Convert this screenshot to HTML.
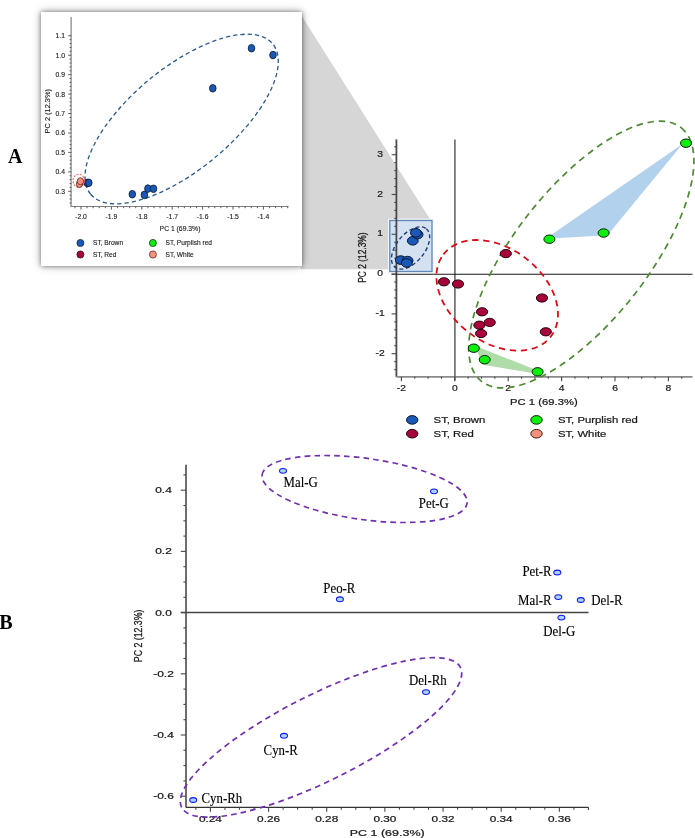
<!DOCTYPE html>
<html><head><meta charset="utf-8"><style>
html,body{margin:0;padding:0;background:#fff;}
body{width:695px;height:838px;overflow:hidden;position:relative;}
svg{position:absolute;left:0;top:0;display:block;will-change:transform;}
</style></head><body>
<svg width="695" height="838" viewBox="0 0 695 838">
<defs><filter id="sh" x="-10%" y="-10%" width="120%" height="120%"><feGaussianBlur stdDeviation="2.6"/></filter><filter id="sh2" x="-15%" y="-15%" width="130%" height="130%"><feGaussianBlur stdDeviation="5.5"/></filter><filter id="bl" x="-5%" y="-5%" width="110%" height="110%"><feGaussianBlur stdDeviation="0.7"/></filter></defs>
<rect width="695" height="838" fill="#fff"/>
<polygon points="300.5,14 431.2,221 431.5,221 431.5,269.2 300.5,269.2" fill="#d6d6d6" filter="url(#bl)"/>
<rect x="41" y="12" width="261" height="254" fill="#000" opacity="0.22" filter="url(#sh2)"/>
<rect x="41" y="12" width="261" height="254" fill="#000" opacity="0.5" filter="url(#sh)"/>
<rect x="41" y="12" width="261" height="254" fill="#fff"/>
<line x1="71.10" y1="17.00" x2="71.10" y2="206.50" stroke="#808080" stroke-width="1.2" />
<line x1="70.50" y1="206.50" x2="288.50" y2="206.50" stroke="#808080" stroke-width="1.2" />
<line x1="69.60" y1="202.96" x2="71.20" y2="202.96" stroke="#4a4a4a" stroke-width="0.9" />
<line x1="69.60" y1="199.08" x2="71.20" y2="199.08" stroke="#4a4a4a" stroke-width="0.9" />
<line x1="69.60" y1="195.19" x2="71.20" y2="195.19" stroke="#4a4a4a" stroke-width="0.9" />
<line x1="68.20" y1="191.30" x2="71.20" y2="191.30" stroke="#4a4a4a" stroke-width="0.9" />
<line x1="69.60" y1="187.41" x2="71.20" y2="187.41" stroke="#4a4a4a" stroke-width="0.9" />
<line x1="69.60" y1="183.52" x2="71.20" y2="183.52" stroke="#4a4a4a" stroke-width="0.9" />
<line x1="69.60" y1="179.64" x2="71.20" y2="179.64" stroke="#4a4a4a" stroke-width="0.9" />
<line x1="69.60" y1="175.75" x2="71.20" y2="175.75" stroke="#4a4a4a" stroke-width="0.9" />
<line x1="68.20" y1="171.86" x2="71.20" y2="171.86" stroke="#4a4a4a" stroke-width="0.9" />
<line x1="69.60" y1="167.97" x2="71.20" y2="167.97" stroke="#4a4a4a" stroke-width="0.9" />
<line x1="69.60" y1="164.08" x2="71.20" y2="164.08" stroke="#4a4a4a" stroke-width="0.9" />
<line x1="69.60" y1="160.20" x2="71.20" y2="160.20" stroke="#4a4a4a" stroke-width="0.9" />
<line x1="69.60" y1="156.31" x2="71.20" y2="156.31" stroke="#4a4a4a" stroke-width="0.9" />
<line x1="68.20" y1="152.42" x2="71.20" y2="152.42" stroke="#4a4a4a" stroke-width="0.9" />
<line x1="69.60" y1="148.53" x2="71.20" y2="148.53" stroke="#4a4a4a" stroke-width="0.9" />
<line x1="69.60" y1="144.64" x2="71.20" y2="144.64" stroke="#4a4a4a" stroke-width="0.9" />
<line x1="69.60" y1="140.76" x2="71.20" y2="140.76" stroke="#4a4a4a" stroke-width="0.9" />
<line x1="69.60" y1="136.87" x2="71.20" y2="136.87" stroke="#4a4a4a" stroke-width="0.9" />
<line x1="68.20" y1="132.98" x2="71.20" y2="132.98" stroke="#4a4a4a" stroke-width="0.9" />
<line x1="69.60" y1="129.09" x2="71.20" y2="129.09" stroke="#4a4a4a" stroke-width="0.9" />
<line x1="69.60" y1="125.20" x2="71.20" y2="125.20" stroke="#4a4a4a" stroke-width="0.9" />
<line x1="69.60" y1="121.32" x2="71.20" y2="121.32" stroke="#4a4a4a" stroke-width="0.9" />
<line x1="69.60" y1="117.43" x2="71.20" y2="117.43" stroke="#4a4a4a" stroke-width="0.9" />
<line x1="68.20" y1="113.54" x2="71.20" y2="113.54" stroke="#4a4a4a" stroke-width="0.9" />
<line x1="69.60" y1="109.65" x2="71.20" y2="109.65" stroke="#4a4a4a" stroke-width="0.9" />
<line x1="69.60" y1="105.76" x2="71.20" y2="105.76" stroke="#4a4a4a" stroke-width="0.9" />
<line x1="69.60" y1="101.88" x2="71.20" y2="101.88" stroke="#4a4a4a" stroke-width="0.9" />
<line x1="69.60" y1="97.99" x2="71.20" y2="97.99" stroke="#4a4a4a" stroke-width="0.9" />
<line x1="68.20" y1="94.10" x2="71.20" y2="94.10" stroke="#4a4a4a" stroke-width="0.9" />
<line x1="69.60" y1="90.21" x2="71.20" y2="90.21" stroke="#4a4a4a" stroke-width="0.9" />
<line x1="69.60" y1="86.32" x2="71.20" y2="86.32" stroke="#4a4a4a" stroke-width="0.9" />
<line x1="69.60" y1="82.44" x2="71.20" y2="82.44" stroke="#4a4a4a" stroke-width="0.9" />
<line x1="69.60" y1="78.55" x2="71.20" y2="78.55" stroke="#4a4a4a" stroke-width="0.9" />
<line x1="68.20" y1="74.66" x2="71.20" y2="74.66" stroke="#4a4a4a" stroke-width="0.9" />
<line x1="69.60" y1="70.77" x2="71.20" y2="70.77" stroke="#4a4a4a" stroke-width="0.9" />
<line x1="69.60" y1="66.88" x2="71.20" y2="66.88" stroke="#4a4a4a" stroke-width="0.9" />
<line x1="69.60" y1="63.00" x2="71.20" y2="63.00" stroke="#4a4a4a" stroke-width="0.9" />
<line x1="69.60" y1="59.11" x2="71.20" y2="59.11" stroke="#4a4a4a" stroke-width="0.9" />
<line x1="68.20" y1="55.22" x2="71.20" y2="55.22" stroke="#4a4a4a" stroke-width="0.9" />
<line x1="69.60" y1="51.33" x2="71.20" y2="51.33" stroke="#4a4a4a" stroke-width="0.9" />
<line x1="69.60" y1="47.44" x2="71.20" y2="47.44" stroke="#4a4a4a" stroke-width="0.9" />
<line x1="69.60" y1="43.56" x2="71.20" y2="43.56" stroke="#4a4a4a" stroke-width="0.9" />
<line x1="69.60" y1="39.67" x2="71.20" y2="39.67" stroke="#4a4a4a" stroke-width="0.9" />
<line x1="68.20" y1="35.78" x2="71.20" y2="35.78" stroke="#4a4a4a" stroke-width="0.9" />
<text transform="translate(65.00,193.70)" font-family="'Liberation Sans', sans-serif" font-size="6.8" font-weight="normal" text-anchor="end" fill="#1a1a1a" stroke="#1a1a1a" stroke-width="0.12" >0.3</text>
<text transform="translate(65.00,174.26)" font-family="'Liberation Sans', sans-serif" font-size="6.8" font-weight="normal" text-anchor="end" fill="#1a1a1a" stroke="#1a1a1a" stroke-width="0.12" >0.4</text>
<text transform="translate(65.00,154.82)" font-family="'Liberation Sans', sans-serif" font-size="6.8" font-weight="normal" text-anchor="end" fill="#1a1a1a" stroke="#1a1a1a" stroke-width="0.12" >0.5</text>
<text transform="translate(65.00,135.38)" font-family="'Liberation Sans', sans-serif" font-size="6.8" font-weight="normal" text-anchor="end" fill="#1a1a1a" stroke="#1a1a1a" stroke-width="0.12" >0.6</text>
<text transform="translate(65.00,115.94)" font-family="'Liberation Sans', sans-serif" font-size="6.8" font-weight="normal" text-anchor="end" fill="#1a1a1a" stroke="#1a1a1a" stroke-width="0.12" >0.7</text>
<text transform="translate(65.00,96.50)" font-family="'Liberation Sans', sans-serif" font-size="6.8" font-weight="normal" text-anchor="end" fill="#1a1a1a" stroke="#1a1a1a" stroke-width="0.12" >0.8</text>
<text transform="translate(65.00,77.06)" font-family="'Liberation Sans', sans-serif" font-size="6.8" font-weight="normal" text-anchor="end" fill="#1a1a1a" stroke="#1a1a1a" stroke-width="0.12" >0.9</text>
<text transform="translate(65.00,57.62)" font-family="'Liberation Sans', sans-serif" font-size="6.8" font-weight="normal" text-anchor="end" fill="#1a1a1a" stroke="#1a1a1a" stroke-width="0.12" >1.0</text>
<text transform="translate(65.00,38.18)" font-family="'Liberation Sans', sans-serif" font-size="6.8" font-weight="normal" text-anchor="end" fill="#1a1a1a" stroke="#1a1a1a" stroke-width="0.12" >1.1</text>
<line x1="74.92" y1="206.60" x2="74.92" y2="208.20" stroke="#4a4a4a" stroke-width="0.9" />
<line x1="81.00" y1="206.60" x2="81.00" y2="209.60" stroke="#4a4a4a" stroke-width="0.9" />
<line x1="87.08" y1="206.60" x2="87.08" y2="208.20" stroke="#4a4a4a" stroke-width="0.9" />
<line x1="93.16" y1="206.60" x2="93.16" y2="208.20" stroke="#4a4a4a" stroke-width="0.9" />
<line x1="99.24" y1="206.60" x2="99.24" y2="208.20" stroke="#4a4a4a" stroke-width="0.9" />
<line x1="105.32" y1="206.60" x2="105.32" y2="208.20" stroke="#4a4a4a" stroke-width="0.9" />
<line x1="111.40" y1="206.60" x2="111.40" y2="209.60" stroke="#4a4a4a" stroke-width="0.9" />
<line x1="117.48" y1="206.60" x2="117.48" y2="208.20" stroke="#4a4a4a" stroke-width="0.9" />
<line x1="123.56" y1="206.60" x2="123.56" y2="208.20" stroke="#4a4a4a" stroke-width="0.9" />
<line x1="129.64" y1="206.60" x2="129.64" y2="208.20" stroke="#4a4a4a" stroke-width="0.9" />
<line x1="135.72" y1="206.60" x2="135.72" y2="208.20" stroke="#4a4a4a" stroke-width="0.9" />
<line x1="141.80" y1="206.60" x2="141.80" y2="209.60" stroke="#4a4a4a" stroke-width="0.9" />
<line x1="147.88" y1="206.60" x2="147.88" y2="208.20" stroke="#4a4a4a" stroke-width="0.9" />
<line x1="153.96" y1="206.60" x2="153.96" y2="208.20" stroke="#4a4a4a" stroke-width="0.9" />
<line x1="160.04" y1="206.60" x2="160.04" y2="208.20" stroke="#4a4a4a" stroke-width="0.9" />
<line x1="166.12" y1="206.60" x2="166.12" y2="208.20" stroke="#4a4a4a" stroke-width="0.9" />
<line x1="172.20" y1="206.60" x2="172.20" y2="209.60" stroke="#4a4a4a" stroke-width="0.9" />
<line x1="178.28" y1="206.60" x2="178.28" y2="208.20" stroke="#4a4a4a" stroke-width="0.9" />
<line x1="184.36" y1="206.60" x2="184.36" y2="208.20" stroke="#4a4a4a" stroke-width="0.9" />
<line x1="190.44" y1="206.60" x2="190.44" y2="208.20" stroke="#4a4a4a" stroke-width="0.9" />
<line x1="196.52" y1="206.60" x2="196.52" y2="208.20" stroke="#4a4a4a" stroke-width="0.9" />
<line x1="202.60" y1="206.60" x2="202.60" y2="209.60" stroke="#4a4a4a" stroke-width="0.9" />
<line x1="208.68" y1="206.60" x2="208.68" y2="208.20" stroke="#4a4a4a" stroke-width="0.9" />
<line x1="214.76" y1="206.60" x2="214.76" y2="208.20" stroke="#4a4a4a" stroke-width="0.9" />
<line x1="220.84" y1="206.60" x2="220.84" y2="208.20" stroke="#4a4a4a" stroke-width="0.9" />
<line x1="226.92" y1="206.60" x2="226.92" y2="208.20" stroke="#4a4a4a" stroke-width="0.9" />
<line x1="233.00" y1="206.60" x2="233.00" y2="209.60" stroke="#4a4a4a" stroke-width="0.9" />
<line x1="239.08" y1="206.60" x2="239.08" y2="208.20" stroke="#4a4a4a" stroke-width="0.9" />
<line x1="245.16" y1="206.60" x2="245.16" y2="208.20" stroke="#4a4a4a" stroke-width="0.9" />
<line x1="251.24" y1="206.60" x2="251.24" y2="208.20" stroke="#4a4a4a" stroke-width="0.9" />
<line x1="257.32" y1="206.60" x2="257.32" y2="208.20" stroke="#4a4a4a" stroke-width="0.9" />
<line x1="263.40" y1="206.60" x2="263.40" y2="209.60" stroke="#4a4a4a" stroke-width="0.9" />
<line x1="269.48" y1="206.60" x2="269.48" y2="208.20" stroke="#4a4a4a" stroke-width="0.9" />
<line x1="275.56" y1="206.60" x2="275.56" y2="208.20" stroke="#4a4a4a" stroke-width="0.9" />
<line x1="281.64" y1="206.60" x2="281.64" y2="208.20" stroke="#4a4a4a" stroke-width="0.9" />
<line x1="287.72" y1="206.60" x2="287.72" y2="208.20" stroke="#4a4a4a" stroke-width="0.9" />
<text transform="translate(81.00,218.60)" font-family="'Liberation Sans', sans-serif" font-size="6.8" font-weight="normal" text-anchor="middle" fill="#1a1a1a" stroke="#1a1a1a" stroke-width="0.12" >-2.0</text>
<text transform="translate(111.40,218.60)" font-family="'Liberation Sans', sans-serif" font-size="6.8" font-weight="normal" text-anchor="middle" fill="#1a1a1a" stroke="#1a1a1a" stroke-width="0.12" >-1.9</text>
<text transform="translate(141.80,218.60)" font-family="'Liberation Sans', sans-serif" font-size="6.8" font-weight="normal" text-anchor="middle" fill="#1a1a1a" stroke="#1a1a1a" stroke-width="0.12" >-1.8</text>
<text transform="translate(172.20,218.60)" font-family="'Liberation Sans', sans-serif" font-size="6.8" font-weight="normal" text-anchor="middle" fill="#1a1a1a" stroke="#1a1a1a" stroke-width="0.12" >-1.7</text>
<text transform="translate(202.60,218.60)" font-family="'Liberation Sans', sans-serif" font-size="6.8" font-weight="normal" text-anchor="middle" fill="#1a1a1a" stroke="#1a1a1a" stroke-width="0.12" >-1.6</text>
<text transform="translate(233.00,218.60)" font-family="'Liberation Sans', sans-serif" font-size="6.8" font-weight="normal" text-anchor="middle" fill="#1a1a1a" stroke="#1a1a1a" stroke-width="0.12" >-1.5</text>
<text transform="translate(263.40,218.60)" font-family="'Liberation Sans', sans-serif" font-size="6.8" font-weight="normal" text-anchor="middle" fill="#1a1a1a" stroke="#1a1a1a" stroke-width="0.12" >-1.4</text>
<text transform="translate(180.00,230.90)" font-family="'Liberation Sans', sans-serif" font-size="6.8" font-weight="normal" text-anchor="middle" fill="#1a1a1a" stroke="#1a1a1a" stroke-width="0.12" >PC 1 (69.3%)</text>
<text transform="translate(50.00,111.20) rotate(-90)" font-family="'Liberation Sans', sans-serif" font-size="7.4" font-weight="normal" text-anchor="middle" fill="#1a1a1a" stroke="#1a1a1a" stroke-width="0.12" >PC 2 (12.3%)</text>
<ellipse cx="181.66" cy="119.02" rx="118.05" ry="51.00" fill="none" stroke="#2a5a8a" stroke-width="1.3" transform="rotate(140.44 181.66 119.02)" stroke-dasharray="4.3 3" stroke-dashoffset="0"/>
<ellipse cx="251.50" cy="48.20" rx="3.30" ry="3.80" fill="#1a58b8" stroke="#081830" stroke-width="0.8" />
<ellipse cx="273.00" cy="55.10" rx="3.30" ry="3.80" fill="#1a58b8" stroke="#081830" stroke-width="0.8" />
<ellipse cx="212.80" cy="88.30" rx="3.30" ry="3.80" fill="#1a58b8" stroke="#081830" stroke-width="0.8" />
<ellipse cx="132.30" cy="194.20" rx="3.30" ry="3.80" fill="#1a58b8" stroke="#081830" stroke-width="0.8" />
<ellipse cx="144.40" cy="194.90" rx="3.30" ry="3.80" fill="#1a58b8" stroke="#081830" stroke-width="0.8" />
<ellipse cx="147.90" cy="188.60" rx="3.30" ry="3.80" fill="#1a58b8" stroke="#081830" stroke-width="0.8" />
<ellipse cx="153.50" cy="188.80" rx="3.30" ry="3.80" fill="#1a58b8" stroke="#081830" stroke-width="0.8" />
<ellipse cx="87.30" cy="182.90" rx="3.30" ry="3.80" fill="#1a58b8" stroke="#081830" stroke-width="0.8" />
<ellipse cx="88.80" cy="182.80" rx="3.30" ry="3.80" fill="#1a58b8" stroke="#081830" stroke-width="0.8" />
<ellipse cx="78.70" cy="180.80" rx="5.70" ry="6.60" fill="none" stroke="#f06464" stroke-width="1.1" stroke-dasharray="2 1.3"/>
<ellipse cx="79.50" cy="184.00" rx="3.20" ry="3.50" fill="#f8917c" stroke="#3a1a10" stroke-width="0.7" />
<ellipse cx="80.40" cy="181.20" rx="3.20" ry="3.50" fill="#f8917c" stroke="#3a1a10" stroke-width="0.7" />
<ellipse cx="80.40" cy="243.00" rx="3.50" ry="3.60" fill="#1a58b8" stroke="#081830" stroke-width="0.7" />
<text transform="translate(93.00,245.30)" font-family="'Liberation Sans', sans-serif" font-size="6.6" font-weight="normal" text-anchor="start" fill="#1a1a1a" stroke="#1a1a1a" stroke-width="0.12" >ST, Brown</text>
<ellipse cx="80.40" cy="254.50" rx="3.50" ry="3.60" fill="#a8043c" stroke="#200408" stroke-width="0.7" />
<text transform="translate(93.00,256.80)" font-family="'Liberation Sans', sans-serif" font-size="6.6" font-weight="normal" text-anchor="start" fill="#1a1a1a" stroke="#1a1a1a" stroke-width="0.12" >ST, Red</text>
<ellipse cx="152.90" cy="243.00" rx="3.50" ry="3.60" fill="#0cee0c" stroke="#062006" stroke-width="0.7" />
<text transform="translate(165.50,245.30)" font-family="'Liberation Sans', sans-serif" font-size="6.6" font-weight="normal" text-anchor="start" fill="#1a1a1a" stroke="#1a1a1a" stroke-width="0.12" >ST, Purplish red</text>
<ellipse cx="152.90" cy="254.50" rx="3.50" ry="3.60" fill="#f8917c" stroke="#3a1a10" stroke-width="0.7" />
<text transform="translate(165.50,256.80)" font-family="'Liberation Sans', sans-serif" font-size="6.6" font-weight="normal" text-anchor="start" fill="#1a1a1a" stroke="#1a1a1a" stroke-width="0.12" >ST, White</text>
<text transform="translate(8.00,162.70)" font-family="'Liberation Serif', serif" font-size="20" font-weight="bold" text-anchor="start" fill="#000" >A</text>
<text transform="translate(-0.80,628.80)" font-family="'Liberation Serif', serif" font-size="20" font-weight="bold" text-anchor="start" fill="#000" >B</text>
<rect x="387.9" y="218.6" width="46" height="55" fill="#f4f6f8" opacity="0.9"/>
<rect x="389.8" y="220.5" width="42.2" height="51" fill="#d4e1f0" stroke="#5f88ba" stroke-width="1.3"/>
<polygon points="550,235.8 682.5,144 607.5,235.3 550,238.6" fill="#b2d1ec"/>
<polygon points="475,345.8 537,370.3 537,373.8 482.5,364.8" fill="#b0dcaa"/>
<line x1="396.40" y1="139.40" x2="396.40" y2="376.80" stroke="#4a4a4a" stroke-width="1.8" />
<line x1="396.40" y1="376.80" x2="692.50" y2="376.80" stroke="#8a8a8a" stroke-width="1.8" />
<line x1="454.90" y1="139.40" x2="454.90" y2="380.50" stroke="#666" stroke-width="1.6" />
<line x1="391.50" y1="274.30" x2="692.50" y2="274.30" stroke="#1a1a1a" stroke-width="1.1" />
<line x1="394.20" y1="369.62" x2="396.40" y2="369.62" stroke="#4a4a4a" stroke-width="1.1" />
<line x1="394.20" y1="361.66" x2="396.40" y2="361.66" stroke="#4a4a4a" stroke-width="1.1" />
<line x1="391.60" y1="353.70" x2="396.40" y2="353.70" stroke="#4a4a4a" stroke-width="1.1" />
<line x1="394.20" y1="345.74" x2="396.40" y2="345.74" stroke="#4a4a4a" stroke-width="1.1" />
<line x1="394.20" y1="337.78" x2="396.40" y2="337.78" stroke="#4a4a4a" stroke-width="1.1" />
<line x1="394.20" y1="329.82" x2="396.40" y2="329.82" stroke="#4a4a4a" stroke-width="1.1" />
<line x1="394.20" y1="321.86" x2="396.40" y2="321.86" stroke="#4a4a4a" stroke-width="1.1" />
<line x1="391.60" y1="313.90" x2="396.40" y2="313.90" stroke="#4a4a4a" stroke-width="1.1" />
<line x1="394.20" y1="305.94" x2="396.40" y2="305.94" stroke="#4a4a4a" stroke-width="1.1" />
<line x1="394.20" y1="297.98" x2="396.40" y2="297.98" stroke="#4a4a4a" stroke-width="1.1" />
<line x1="394.20" y1="290.02" x2="396.40" y2="290.02" stroke="#4a4a4a" stroke-width="1.1" />
<line x1="394.20" y1="282.06" x2="396.40" y2="282.06" stroke="#4a4a4a" stroke-width="1.1" />
<line x1="391.60" y1="274.10" x2="396.40" y2="274.10" stroke="#4a4a4a" stroke-width="1.1" />
<line x1="394.20" y1="266.14" x2="396.40" y2="266.14" stroke="#4a4a4a" stroke-width="1.1" />
<line x1="394.20" y1="258.18" x2="396.40" y2="258.18" stroke="#4a4a4a" stroke-width="1.1" />
<line x1="394.20" y1="250.22" x2="396.40" y2="250.22" stroke="#4a4a4a" stroke-width="1.1" />
<line x1="394.20" y1="242.26" x2="396.40" y2="242.26" stroke="#4a4a4a" stroke-width="1.1" />
<line x1="391.60" y1="234.30" x2="396.40" y2="234.30" stroke="#4a4a4a" stroke-width="1.1" />
<line x1="394.20" y1="226.34" x2="396.40" y2="226.34" stroke="#4a4a4a" stroke-width="1.1" />
<line x1="394.20" y1="218.38" x2="396.40" y2="218.38" stroke="#4a4a4a" stroke-width="1.1" />
<line x1="394.20" y1="210.42" x2="396.40" y2="210.42" stroke="#4a4a4a" stroke-width="1.1" />
<line x1="394.20" y1="202.46" x2="396.40" y2="202.46" stroke="#4a4a4a" stroke-width="1.1" />
<line x1="391.60" y1="194.50" x2="396.40" y2="194.50" stroke="#4a4a4a" stroke-width="1.1" />
<line x1="394.20" y1="186.54" x2="396.40" y2="186.54" stroke="#4a4a4a" stroke-width="1.1" />
<line x1="394.20" y1="178.58" x2="396.40" y2="178.58" stroke="#4a4a4a" stroke-width="1.1" />
<line x1="394.20" y1="170.62" x2="396.40" y2="170.62" stroke="#4a4a4a" stroke-width="1.1" />
<line x1="394.20" y1="162.66" x2="396.40" y2="162.66" stroke="#4a4a4a" stroke-width="1.1" />
<line x1="391.60" y1="154.70" x2="396.40" y2="154.70" stroke="#4a4a4a" stroke-width="1.1" />
<line x1="394.20" y1="146.74" x2="396.40" y2="146.74" stroke="#4a4a4a" stroke-width="1.1" />
<text transform="translate(380.10,156.80) scale(1.12,1.0)" font-family="'Liberation Sans', sans-serif" font-size="9.2" font-weight="normal" text-anchor="middle" fill="#1a1a1a" stroke="#1a1a1a" stroke-width="0.22" >3</text>
<text transform="translate(380.10,196.60) scale(1.12,1.0)" font-family="'Liberation Sans', sans-serif" font-size="9.2" font-weight="normal" text-anchor="middle" fill="#1a1a1a" stroke="#1a1a1a" stroke-width="0.22" >2</text>
<text transform="translate(380.10,236.40) scale(1.12,1.0)" font-family="'Liberation Sans', sans-serif" font-size="9.2" font-weight="normal" text-anchor="middle" fill="#1a1a1a" stroke="#1a1a1a" stroke-width="0.22" >1</text>
<text transform="translate(380.10,276.20) scale(1.12,1.0)" font-family="'Liberation Sans', sans-serif" font-size="9.2" font-weight="normal" text-anchor="middle" fill="#1a1a1a" stroke="#1a1a1a" stroke-width="0.22" >0</text>
<text transform="translate(380.10,316.00) scale(1.12,1.0)" font-family="'Liberation Sans', sans-serif" font-size="9.2" font-weight="normal" text-anchor="middle" fill="#1a1a1a" stroke="#1a1a1a" stroke-width="0.22" >-1</text>
<text transform="translate(380.10,355.80) scale(1.12,1.0)" font-family="'Liberation Sans', sans-serif" font-size="9.2" font-weight="normal" text-anchor="middle" fill="#1a1a1a" stroke="#1a1a1a" stroke-width="0.22" >-2</text>
<line x1="401.40" y1="376.80" x2="401.40" y2="381.20" stroke="#4a4a4a" stroke-width="1.1" />
<line x1="414.75" y1="376.80" x2="414.75" y2="378.80" stroke="#4a4a4a" stroke-width="1.1" />
<line x1="428.10" y1="376.80" x2="428.10" y2="378.80" stroke="#4a4a4a" stroke-width="1.1" />
<line x1="441.45" y1="376.80" x2="441.45" y2="378.80" stroke="#4a4a4a" stroke-width="1.1" />
<line x1="454.80" y1="376.80" x2="454.80" y2="381.20" stroke="#4a4a4a" stroke-width="1.1" />
<line x1="468.15" y1="376.80" x2="468.15" y2="378.80" stroke="#4a4a4a" stroke-width="1.1" />
<line x1="481.50" y1="376.80" x2="481.50" y2="378.80" stroke="#4a4a4a" stroke-width="1.1" />
<line x1="494.85" y1="376.80" x2="494.85" y2="378.80" stroke="#4a4a4a" stroke-width="1.1" />
<line x1="508.20" y1="376.80" x2="508.20" y2="381.20" stroke="#4a4a4a" stroke-width="1.1" />
<line x1="521.55" y1="376.80" x2="521.55" y2="378.80" stroke="#4a4a4a" stroke-width="1.1" />
<line x1="534.90" y1="376.80" x2="534.90" y2="378.80" stroke="#4a4a4a" stroke-width="1.1" />
<line x1="548.25" y1="376.80" x2="548.25" y2="378.80" stroke="#4a4a4a" stroke-width="1.1" />
<line x1="561.60" y1="376.80" x2="561.60" y2="381.20" stroke="#4a4a4a" stroke-width="1.1" />
<line x1="574.95" y1="376.80" x2="574.95" y2="378.80" stroke="#4a4a4a" stroke-width="1.1" />
<line x1="588.30" y1="376.80" x2="588.30" y2="378.80" stroke="#4a4a4a" stroke-width="1.1" />
<line x1="601.65" y1="376.80" x2="601.65" y2="378.80" stroke="#4a4a4a" stroke-width="1.1" />
<line x1="615.00" y1="376.80" x2="615.00" y2="381.20" stroke="#4a4a4a" stroke-width="1.1" />
<line x1="628.35" y1="376.80" x2="628.35" y2="378.80" stroke="#4a4a4a" stroke-width="1.1" />
<line x1="641.70" y1="376.80" x2="641.70" y2="378.80" stroke="#4a4a4a" stroke-width="1.1" />
<line x1="655.05" y1="376.80" x2="655.05" y2="378.80" stroke="#4a4a4a" stroke-width="1.1" />
<line x1="668.40" y1="376.80" x2="668.40" y2="381.20" stroke="#4a4a4a" stroke-width="1.1" />
<line x1="681.75" y1="376.80" x2="681.75" y2="378.80" stroke="#4a4a4a" stroke-width="1.1" />
<text transform="translate(401.40,390.90) scale(1.12,1.0)" font-family="'Liberation Sans', sans-serif" font-size="9.2" font-weight="normal" text-anchor="middle" fill="#1a1a1a" stroke="#1a1a1a" stroke-width="0.22" >-2</text>
<text transform="translate(454.80,390.90) scale(1.12,1.0)" font-family="'Liberation Sans', sans-serif" font-size="9.2" font-weight="normal" text-anchor="middle" fill="#1a1a1a" stroke="#1a1a1a" stroke-width="0.22" >0</text>
<text transform="translate(508.20,390.90) scale(1.12,1.0)" font-family="'Liberation Sans', sans-serif" font-size="9.2" font-weight="normal" text-anchor="middle" fill="#1a1a1a" stroke="#1a1a1a" stroke-width="0.22" >2</text>
<text transform="translate(561.60,390.90) scale(1.12,1.0)" font-family="'Liberation Sans', sans-serif" font-size="9.2" font-weight="normal" text-anchor="middle" fill="#1a1a1a" stroke="#1a1a1a" stroke-width="0.22" >4</text>
<text transform="translate(615.00,390.90) scale(1.12,1.0)" font-family="'Liberation Sans', sans-serif" font-size="9.2" font-weight="normal" text-anchor="middle" fill="#1a1a1a" stroke="#1a1a1a" stroke-width="0.22" >6</text>
<text transform="translate(668.40,390.90) scale(1.12,1.0)" font-family="'Liberation Sans', sans-serif" font-size="9.2" font-weight="normal" text-anchor="middle" fill="#1a1a1a" stroke="#1a1a1a" stroke-width="0.22" >8</text>
<text transform="translate(543.90,404.80) scale(1.31,1.0)" font-family="'Liberation Sans', sans-serif" font-size="8.6" font-weight="normal" text-anchor="middle" fill="#1a1a1a" stroke="#1a1a1a" stroke-width="0.22" >PC 1 (69.3%)</text>
<text transform="translate(365.60,257.60) rotate(-90) scale(1.0,1.31)" font-family="'Liberation Sans', sans-serif" font-size="8.4" font-weight="normal" text-anchor="middle" fill="#1a1a1a" stroke="#1a1a1a" stroke-width="0.22" >PC 2 (12.3%)</text>
<ellipse cx="410.57" cy="247.95" rx="24.82" ry="14.03" fill="none" stroke="#1e3f7a" stroke-width="1.4" transform="rotate(-50.64 410.57 247.95)" stroke-dasharray="4 2.6" stroke-dashoffset="0"/>
<ellipse cx="497.20" cy="295.36" rx="67.59" ry="46.79" fill="none" stroke="#dc0a14" stroke-width="1.8" transform="rotate(-142.67 497.20 295.36)" stroke-dasharray="6.3 4.7" stroke-dashoffset="0"/>
<ellipse cx="581.32" cy="254.52" rx="161.42" ry="66.46" fill="none" stroke="#4e8a34" stroke-width="1.7" transform="rotate(-51.84 581.32 254.52)" stroke-dasharray="6.5 4.8" stroke-dashoffset="0"/>
<ellipse cx="400.80" cy="260.10" rx="5.40" ry="4.30" fill="#1a58b8" stroke="#081830" stroke-width="1.0" />
<ellipse cx="407.60" cy="260.60" rx="5.40" ry="4.30" fill="#1a58b8" stroke="#081830" stroke-width="1.0" />
<ellipse cx="406.80" cy="263.00" rx="5.40" ry="4.30" fill="#1a58b8" stroke="#081830" stroke-width="1.0" />
<ellipse cx="412.80" cy="240.80" rx="5.40" ry="4.30" fill="#1a58b8" stroke="#081830" stroke-width="1.0" />
<ellipse cx="417.60" cy="234.60" rx="5.40" ry="4.30" fill="#1a58b8" stroke="#081830" stroke-width="1.0" />
<ellipse cx="415.90" cy="232.80" rx="5.40" ry="4.30" fill="#1a58b8" stroke="#081830" stroke-width="1.0" />
<ellipse cx="505.80" cy="253.60" rx="5.60" ry="4.10" fill="#a8043c" stroke="#200408" stroke-width="1.0" />
<ellipse cx="443.90" cy="281.80" rx="5.60" ry="4.10" fill="#a8043c" stroke="#200408" stroke-width="1.0" />
<ellipse cx="458.00" cy="284.00" rx="5.60" ry="4.10" fill="#a8043c" stroke="#200408" stroke-width="1.0" />
<ellipse cx="542.00" cy="298.00" rx="5.60" ry="4.10" fill="#a8043c" stroke="#200408" stroke-width="1.0" />
<ellipse cx="482.10" cy="311.80" rx="5.60" ry="4.10" fill="#a8043c" stroke="#200408" stroke-width="1.0" />
<ellipse cx="489.70" cy="322.40" rx="5.60" ry="4.10" fill="#a8043c" stroke="#200408" stroke-width="1.0" />
<ellipse cx="479.40" cy="325.20" rx="5.60" ry="4.10" fill="#a8043c" stroke="#200408" stroke-width="1.0" />
<ellipse cx="481.10" cy="333.50" rx="5.60" ry="4.10" fill="#a8043c" stroke="#200408" stroke-width="1.0" />
<ellipse cx="545.80" cy="331.80" rx="5.60" ry="4.10" fill="#a8043c" stroke="#200408" stroke-width="1.0" />
<ellipse cx="686.00" cy="143.20" rx="5.50" ry="4.20" fill="#0cee0c" stroke="#062006" stroke-width="1.0" />
<ellipse cx="603.60" cy="233.00" rx="5.50" ry="4.20" fill="#0cee0c" stroke="#062006" stroke-width="1.0" />
<ellipse cx="549.40" cy="239.20" rx="5.50" ry="4.20" fill="#0cee0c" stroke="#062006" stroke-width="1.0" />
<ellipse cx="473.80" cy="348.20" rx="5.50" ry="4.20" fill="#0cee0c" stroke="#062006" stroke-width="1.0" />
<ellipse cx="484.70" cy="359.70" rx="5.50" ry="4.20" fill="#0cee0c" stroke="#062006" stroke-width="1.0" />
<ellipse cx="537.60" cy="371.80" rx="5.50" ry="4.20" fill="#0cee0c" stroke="#062006" stroke-width="1.0" />
<ellipse cx="412.20" cy="419.90" rx="5.70" ry="4.30" fill="#1a58b8" stroke="#081830" stroke-width="1.0" />
<text transform="translate(433.60,423.20) scale(1.26,1.0)" font-family="'Liberation Sans', sans-serif" font-size="9" font-weight="normal" text-anchor="start" fill="#1a1a1a" stroke="#1a1a1a" stroke-width="0.22" >ST, Brown</text>
<ellipse cx="412.20" cy="433.70" rx="5.70" ry="4.30" fill="#a8043c" stroke="#200408" stroke-width="1.0" />
<text transform="translate(433.60,437.00) scale(1.26,1.0)" font-family="'Liberation Sans', sans-serif" font-size="9" font-weight="normal" text-anchor="start" fill="#1a1a1a" stroke="#1a1a1a" stroke-width="0.22" >ST, Red</text>
<ellipse cx="536.50" cy="419.90" rx="5.70" ry="4.30" fill="#0cee0c" stroke="#062006" stroke-width="1.0" />
<text transform="translate(557.90,423.20) scale(1.26,1.0)" font-family="'Liberation Sans', sans-serif" font-size="9" font-weight="normal" text-anchor="start" fill="#1a1a1a" stroke="#1a1a1a" stroke-width="0.22" >ST, Purplish red</text>
<ellipse cx="536.50" cy="433.70" rx="5.70" ry="4.30" fill="#f8917c" stroke="#3a1a10" stroke-width="1.0" />
<text transform="translate(557.90,437.00) scale(1.26,1.0)" font-family="'Liberation Sans', sans-serif" font-size="9" font-weight="normal" text-anchor="start" fill="#1a1a1a" stroke="#1a1a1a" stroke-width="0.22" >ST, White</text>
<line x1="186.00" y1="464.80" x2="186.00" y2="807.60" stroke="#4a4a4a" stroke-width="1.6" />
<line x1="186.00" y1="807.40" x2="588.60" y2="807.40" stroke="#333" stroke-width="1.4" />
<line x1="180.80" y1="612.60" x2="588.50" y2="612.60" stroke="#444" stroke-width="1.5" />
<line x1="180.80" y1="796.20" x2="186.00" y2="796.20" stroke="#4a4a4a" stroke-width="1.1" />
<line x1="183.40" y1="780.90" x2="186.00" y2="780.90" stroke="#4a4a4a" stroke-width="1.1" />
<line x1="183.40" y1="765.60" x2="186.00" y2="765.60" stroke="#4a4a4a" stroke-width="1.1" />
<line x1="183.40" y1="750.30" x2="186.00" y2="750.30" stroke="#4a4a4a" stroke-width="1.1" />
<line x1="180.80" y1="735.00" x2="186.00" y2="735.00" stroke="#4a4a4a" stroke-width="1.1" />
<line x1="183.40" y1="719.70" x2="186.00" y2="719.70" stroke="#4a4a4a" stroke-width="1.1" />
<line x1="183.40" y1="704.40" x2="186.00" y2="704.40" stroke="#4a4a4a" stroke-width="1.1" />
<line x1="183.40" y1="689.10" x2="186.00" y2="689.10" stroke="#4a4a4a" stroke-width="1.1" />
<line x1="180.80" y1="673.80" x2="186.00" y2="673.80" stroke="#4a4a4a" stroke-width="1.1" />
<line x1="183.40" y1="658.50" x2="186.00" y2="658.50" stroke="#4a4a4a" stroke-width="1.1" />
<line x1="183.40" y1="643.20" x2="186.00" y2="643.20" stroke="#4a4a4a" stroke-width="1.1" />
<line x1="183.40" y1="627.90" x2="186.00" y2="627.90" stroke="#4a4a4a" stroke-width="1.1" />
<line x1="180.80" y1="612.60" x2="186.00" y2="612.60" stroke="#4a4a4a" stroke-width="1.1" />
<line x1="183.40" y1="597.30" x2="186.00" y2="597.30" stroke="#4a4a4a" stroke-width="1.1" />
<line x1="183.40" y1="582.00" x2="186.00" y2="582.00" stroke="#4a4a4a" stroke-width="1.1" />
<line x1="183.40" y1="566.70" x2="186.00" y2="566.70" stroke="#4a4a4a" stroke-width="1.1" />
<line x1="180.80" y1="551.40" x2="186.00" y2="551.40" stroke="#4a4a4a" stroke-width="1.1" />
<line x1="183.40" y1="536.10" x2="186.00" y2="536.10" stroke="#4a4a4a" stroke-width="1.1" />
<line x1="183.40" y1="520.80" x2="186.00" y2="520.80" stroke="#4a4a4a" stroke-width="1.1" />
<line x1="183.40" y1="505.50" x2="186.00" y2="505.50" stroke="#4a4a4a" stroke-width="1.1" />
<line x1="180.80" y1="490.20" x2="186.00" y2="490.20" stroke="#4a4a4a" stroke-width="1.1" />
<line x1="183.40" y1="474.90" x2="186.00" y2="474.90" stroke="#4a4a4a" stroke-width="1.1" />
<text transform="translate(163.50,493.20) scale(1.42,1.0)" font-family="'Liberation Sans', sans-serif" font-size="8.4" font-weight="normal" text-anchor="middle" fill="#1a1a1a" stroke="#1a1a1a" stroke-width="0.22" >0.4</text>
<text transform="translate(163.50,554.40) scale(1.42,1.0)" font-family="'Liberation Sans', sans-serif" font-size="8.4" font-weight="normal" text-anchor="middle" fill="#1a1a1a" stroke="#1a1a1a" stroke-width="0.22" >0.2</text>
<text transform="translate(163.50,615.60) scale(1.42,1.0)" font-family="'Liberation Sans', sans-serif" font-size="8.4" font-weight="normal" text-anchor="middle" fill="#1a1a1a" stroke="#1a1a1a" stroke-width="0.22" >0.0</text>
<text transform="translate(163.50,676.80) scale(1.42,1.0)" font-family="'Liberation Sans', sans-serif" font-size="8.4" font-weight="normal" text-anchor="middle" fill="#1a1a1a" stroke="#1a1a1a" stroke-width="0.22" >-0.2</text>
<text transform="translate(163.50,738.00) scale(1.42,1.0)" font-family="'Liberation Sans', sans-serif" font-size="8.4" font-weight="normal" text-anchor="middle" fill="#1a1a1a" stroke="#1a1a1a" stroke-width="0.22" >-0.4</text>
<text transform="translate(163.50,799.20) scale(1.42,1.0)" font-family="'Liberation Sans', sans-serif" font-size="8.4" font-weight="normal" text-anchor="middle" fill="#1a1a1a" stroke="#1a1a1a" stroke-width="0.22" >-0.6</text>
<line x1="195.86" y1="807.40" x2="195.86" y2="809.80" stroke="#4a4a4a" stroke-width="1.1" />
<line x1="210.40" y1="807.40" x2="210.40" y2="811.80" stroke="#4a4a4a" stroke-width="1.1" />
<line x1="224.94" y1="807.40" x2="224.94" y2="809.80" stroke="#4a4a4a" stroke-width="1.1" />
<line x1="239.48" y1="807.40" x2="239.48" y2="809.80" stroke="#4a4a4a" stroke-width="1.1" />
<line x1="254.02" y1="807.40" x2="254.02" y2="809.80" stroke="#4a4a4a" stroke-width="1.1" />
<line x1="268.56" y1="807.40" x2="268.56" y2="811.80" stroke="#4a4a4a" stroke-width="1.1" />
<line x1="283.10" y1="807.40" x2="283.10" y2="809.80" stroke="#4a4a4a" stroke-width="1.1" />
<line x1="297.64" y1="807.40" x2="297.64" y2="809.80" stroke="#4a4a4a" stroke-width="1.1" />
<line x1="312.18" y1="807.40" x2="312.18" y2="809.80" stroke="#4a4a4a" stroke-width="1.1" />
<line x1="326.72" y1="807.40" x2="326.72" y2="811.80" stroke="#4a4a4a" stroke-width="1.1" />
<line x1="341.26" y1="807.40" x2="341.26" y2="809.80" stroke="#4a4a4a" stroke-width="1.1" />
<line x1="355.80" y1="807.40" x2="355.80" y2="809.80" stroke="#4a4a4a" stroke-width="1.1" />
<line x1="370.34" y1="807.40" x2="370.34" y2="809.80" stroke="#4a4a4a" stroke-width="1.1" />
<line x1="384.88" y1="807.40" x2="384.88" y2="811.80" stroke="#4a4a4a" stroke-width="1.1" />
<line x1="399.42" y1="807.40" x2="399.42" y2="809.80" stroke="#4a4a4a" stroke-width="1.1" />
<line x1="413.96" y1="807.40" x2="413.96" y2="809.80" stroke="#4a4a4a" stroke-width="1.1" />
<line x1="428.50" y1="807.40" x2="428.50" y2="809.80" stroke="#4a4a4a" stroke-width="1.1" />
<line x1="443.04" y1="807.40" x2="443.04" y2="811.80" stroke="#4a4a4a" stroke-width="1.1" />
<line x1="457.58" y1="807.40" x2="457.58" y2="809.80" stroke="#4a4a4a" stroke-width="1.1" />
<line x1="472.12" y1="807.40" x2="472.12" y2="809.80" stroke="#4a4a4a" stroke-width="1.1" />
<line x1="486.66" y1="807.40" x2="486.66" y2="809.80" stroke="#4a4a4a" stroke-width="1.1" />
<line x1="501.20" y1="807.40" x2="501.20" y2="811.80" stroke="#4a4a4a" stroke-width="1.1" />
<line x1="515.74" y1="807.40" x2="515.74" y2="809.80" stroke="#4a4a4a" stroke-width="1.1" />
<line x1="530.28" y1="807.40" x2="530.28" y2="809.80" stroke="#4a4a4a" stroke-width="1.1" />
<line x1="544.82" y1="807.40" x2="544.82" y2="809.80" stroke="#4a4a4a" stroke-width="1.1" />
<line x1="559.36" y1="807.40" x2="559.36" y2="811.80" stroke="#4a4a4a" stroke-width="1.1" />
<line x1="573.90" y1="807.40" x2="573.90" y2="809.80" stroke="#4a4a4a" stroke-width="1.1" />
<line x1="588.44" y1="807.40" x2="588.44" y2="809.80" stroke="#4a4a4a" stroke-width="1.1" />
<line x1="588.50" y1="807.60" x2="588.50" y2="810.00" stroke="#4a4a4a" stroke-width="1.1" />
<text transform="translate(210.40,822.20) scale(1.42,1.0)" font-family="'Liberation Sans', sans-serif" font-size="8.3" font-weight="normal" text-anchor="middle" fill="#1a1a1a" stroke="#1a1a1a" stroke-width="0.22" >0.24</text>
<text transform="translate(268.56,822.20) scale(1.42,1.0)" font-family="'Liberation Sans', sans-serif" font-size="8.3" font-weight="normal" text-anchor="middle" fill="#1a1a1a" stroke="#1a1a1a" stroke-width="0.22" >0.26</text>
<text transform="translate(326.72,822.20) scale(1.42,1.0)" font-family="'Liberation Sans', sans-serif" font-size="8.3" font-weight="normal" text-anchor="middle" fill="#1a1a1a" stroke="#1a1a1a" stroke-width="0.22" >0.28</text>
<text transform="translate(384.88,822.20) scale(1.42,1.0)" font-family="'Liberation Sans', sans-serif" font-size="8.3" font-weight="normal" text-anchor="middle" fill="#1a1a1a" stroke="#1a1a1a" stroke-width="0.22" >0.30</text>
<text transform="translate(443.04,822.20) scale(1.42,1.0)" font-family="'Liberation Sans', sans-serif" font-size="8.3" font-weight="normal" text-anchor="middle" fill="#1a1a1a" stroke="#1a1a1a" stroke-width="0.22" >0.32</text>
<text transform="translate(501.20,822.20) scale(1.42,1.0)" font-family="'Liberation Sans', sans-serif" font-size="8.3" font-weight="normal" text-anchor="middle" fill="#1a1a1a" stroke="#1a1a1a" stroke-width="0.22" >0.34</text>
<text transform="translate(559.36,822.20) scale(1.42,1.0)" font-family="'Liberation Sans', sans-serif" font-size="8.3" font-weight="normal" text-anchor="middle" fill="#1a1a1a" stroke="#1a1a1a" stroke-width="0.22" >0.36</text>
<text transform="translate(387.20,836.30) scale(1.47,1.0)" font-family="'Liberation Sans', sans-serif" font-size="8.5" font-weight="normal" text-anchor="middle" fill="#1a1a1a" stroke="#1a1a1a" stroke-width="0.22" >PC 1 (69.3%)</text>
<text transform="translate(141.50,635.90) rotate(-90) scale(1.0,1.3)" font-family="'Liberation Sans', sans-serif" font-size="8.77" font-weight="normal" text-anchor="middle" fill="#1a1a1a" stroke="#1a1a1a" stroke-width="0.22" >PC 2 (12.3%)</text>
<ellipse cx="364.61" cy="489.01" rx="103.46" ry="30.67" fill="none" stroke="#7030b0" stroke-width="1.7" transform="rotate(-172.15 364.61 489.01)" stroke-dasharray="5.6 4.2" stroke-dashoffset="0"/>
<ellipse cx="321.01" cy="737.37" rx="155.97" ry="42.82" fill="none" stroke="#7030b0" stroke-width="1.7" transform="rotate(153.35 321.01 737.37)" stroke-dasharray="5.6 4.2" stroke-dashoffset="0"/>
<ellipse cx="283.00" cy="470.80" rx="3.50" ry="2.40" fill="#a4d8e8" stroke="#1414ff" stroke-width="1.05" />
<text transform="translate(283.60,486.90) scale(1.0,1.1)" font-family="'Liberation Serif', serif" font-size="12.85" font-weight="normal" text-anchor="start" fill="#000" stroke="#000" stroke-width="0.12" >Mal-G</text>
<ellipse cx="434.00" cy="491.30" rx="3.50" ry="2.40" fill="#a4d8e8" stroke="#1414ff" stroke-width="1.05" />
<text transform="translate(418.80,507.90) scale(1.0,1.1)" font-family="'Liberation Serif', serif" font-size="12.85" font-weight="normal" text-anchor="start" fill="#000" stroke="#000" stroke-width="0.12" >Pet-G</text>
<ellipse cx="339.90" cy="599.30" rx="3.50" ry="2.40" fill="#a4d8e8" stroke="#1414ff" stroke-width="1.05" />
<text transform="translate(323.30,592.60) scale(1.0,1.1)" font-family="'Liberation Serif', serif" font-size="12.85" font-weight="normal" text-anchor="start" fill="#000" stroke="#000" stroke-width="0.12" >Peo-R</text>
<ellipse cx="557.30" cy="572.50" rx="3.50" ry="2.40" fill="#a4d8e8" stroke="#1414ff" stroke-width="1.05" />
<text transform="translate(522.40,575.60) scale(1.0,1.1)" font-family="'Liberation Serif', serif" font-size="12.85" font-weight="normal" text-anchor="start" fill="#000" stroke="#000" stroke-width="0.12" >Pet-R</text>
<ellipse cx="558.30" cy="597.10" rx="3.50" ry="2.40" fill="#a4d8e8" stroke="#1414ff" stroke-width="1.05" />
<text transform="translate(518.10,604.80) scale(1.0,1.1)" font-family="'Liberation Serif', serif" font-size="12.85" font-weight="normal" text-anchor="start" fill="#000" stroke="#000" stroke-width="0.12" >Mal-R</text>
<ellipse cx="580.80" cy="600.00" rx="3.50" ry="2.40" fill="#a4d8e8" stroke="#1414ff" stroke-width="1.05" />
<text transform="translate(591.30,604.70) scale(1.0,1.1)" font-family="'Liberation Serif', serif" font-size="12.85" font-weight="normal" text-anchor="start" fill="#000" stroke="#000" stroke-width="0.12" >Del-R</text>
<ellipse cx="561.40" cy="617.60" rx="3.50" ry="2.40" fill="#a4d8e8" stroke="#1414ff" stroke-width="1.05" />
<text transform="translate(543.20,635.70) scale(1.0,1.1)" font-family="'Liberation Serif', serif" font-size="12.85" font-weight="normal" text-anchor="start" fill="#000" stroke="#000" stroke-width="0.12" >Del-G</text>
<ellipse cx="426.00" cy="692.10" rx="3.50" ry="2.40" fill="#a4d8e8" stroke="#1414ff" stroke-width="1.05" />
<text transform="translate(408.90,685.10) scale(1.0,1.1)" font-family="'Liberation Serif', serif" font-size="12.85" font-weight="normal" text-anchor="start" fill="#000" stroke="#000" stroke-width="0.12" >Del-Rh</text>
<ellipse cx="284.00" cy="735.80" rx="3.50" ry="2.40" fill="#a4d8e8" stroke="#1414ff" stroke-width="1.05" />
<text transform="translate(263.60,754.70) scale(1.0,1.1)" font-family="'Liberation Serif', serif" font-size="12.85" font-weight="normal" text-anchor="start" fill="#000" stroke="#000" stroke-width="0.12" >Cyn-R</text>
<ellipse cx="193.20" cy="800.00" rx="3.50" ry="2.40" fill="#a4d8e8" stroke="#1414ff" stroke-width="1.05" />
<text transform="translate(201.50,803.20) scale(1.0,1.1)" font-family="'Liberation Serif', serif" font-size="12.85" font-weight="normal" text-anchor="start" fill="#000" stroke="#000" stroke-width="0.12" >Cyn-Rh</text>
</svg>
</body></html>
